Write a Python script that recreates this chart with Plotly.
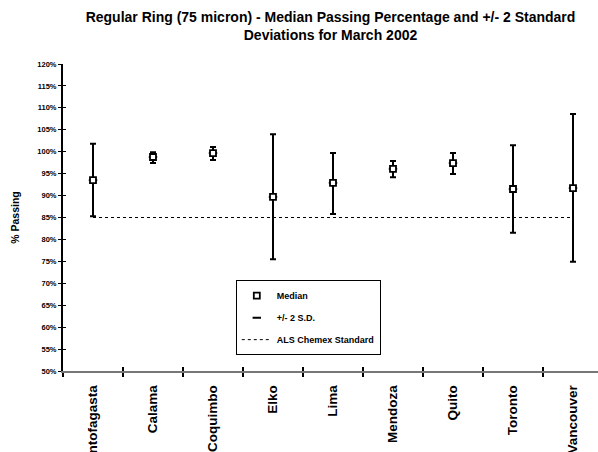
import plotly.graph_objects as go

# March 2002 regular ring (75 micron) results per laboratory
cities = ["Antofagasta", "Calama", "Coquimbo", "Elko", "Lima",
          "Mendoza", "Quito", "Toronto", "Vancouver"]
median = [0.935, 0.988, 0.997, 0.897, 0.929, 0.961, 0.974, 0.915, 0.917]
upper_2sd = [1.018, 0.999, 1.011, 1.040, 0.997, 0.979, 0.997, 1.015, 1.086]
lower_2sd = [0.853, 0.974, 0.981, 0.755, 0.858, 0.942, 0.949, 0.815, 0.749]
standard = [0.85] * len(cities)

err_plus = [u - m for u, m in zip(upper_2sd, median)]
err_minus = [m - l for m, l in zip(median, lower_2sd)]

FONT = "Liberation Sans, Arial, sans-serif"
X_RANGE = [-0.5, 8.4167]
Y_RANGE = [0.5, 1.2]

fig = go.Figure()

# +/- 2 S.D. bars (short dash marker sits hidden under the median square)
fig.add_trace(go.Scatter(
    x=cities, y=median, mode="markers", name="+/- 2 S.D.",
    legendgroup="sd", legendrank=2,
    marker=dict(symbol="line-ew", size=6, color="black",
                line=dict(color="black", width=2)),
    error_y=dict(type="data", symmetric=False, array=err_plus,
                 arrayminus=err_minus, color="black", thickness=2, width=3),
))

# ALS Chemex standard line
fig.add_trace(go.Scatter(
    x=cities, y=standard, mode="lines", name="ALS Chemex Standard",
    legendgroup="std", legendrank=3, xaxis="x2", yaxis="y2",
    line=dict(color="black", width=1, dash="dot"),
))

# Medians as open squares
fig.add_trace(go.Scatter(
    x=cities, y=median, mode="markers", name="Median",
    legendgroup="med", legendrank=1,
    marker=dict(symbol="square", size=6, color="white",
                line=dict(color="black", width=1.8)),
))

fig.update_layout(
    width=598, height=452,
    margin=dict(l=63, r=0, t=64, b=81),
    paper_bgcolor="white", plot_bgcolor="white",
    font=dict(family=FONT, color="black"),
    title=dict(
        text="Regular Ring (75 micron) - Median Passing Percentage and +/- 2 Standard"
             "<br>Deviations for March 2002",
        x=0.5, xref="paper", xanchor="center",
        y=1 - 22 / 452, yref="container", yanchor="top",
        font=dict(size=14, weight="bold", family=FONT),
    ),
    showlegend=True,
    legend=dict(
        x=0.323, y=0.296, xanchor="left", yanchor="top",
        xref="paper", yref="paper",
        bgcolor="white", bordercolor="black", borderwidth=1,
        font=dict(size=9, weight="bold", family=FONT),
        traceorder="grouped", tracegroupgap=3,
        itemwidth=30,
    ),
    xaxis=dict(
        type="category", categoryorder="array", categoryarray=cities,
        range=X_RANGE, tickson="boundaries", automargin=False,
        showline=True, linecolor="#777777", linewidth=1.5,
        ticks="outside", ticklen=4, tickwidth=1.5, tickcolor="black",
        tickangle=-90, ticklabelstandoff=7,
        tickfont=dict(size=13.5, weight="bold", family=FONT),
        showgrid=False, zeroline=False, fixedrange=True,
    ),
    xaxis2=dict(
        type="category", categoryorder="array", categoryarray=cities,
        range=X_RANGE, tickson="boundaries", overlaying="x",
        side="bottom", showline=False, automargin=False,
        ticks="inside", ticklen=4, tickwidth=1.5, tickcolor="black",
        showticklabels=False, showgrid=False, zeroline=False,
    ),
    yaxis=dict(
        range=Y_RANGE, dtick=0.05, tickformat=".0%", automargin=False,
        showline=True, linecolor="black", linewidth=2,
        ticks="outside", ticklen=3, tickwidth=1, tickcolor="black",
        tickfont=dict(size=7.5, weight="bold", family=FONT),
        title=dict(text="% Passing", standoff=16,
                   font=dict(size=10.5, weight="bold", family=FONT)),
        showgrid=False, zeroline=False, fixedrange=True,
    ),
    yaxis2=dict(
        range=Y_RANGE, dtick=0.05, overlaying="y", side="left",
        showline=False, ticks="inside", ticklen=3, tickwidth=1,
        tickcolor="black", showticklabels=False, automargin=False,
        showgrid=False, zeroline=False,
    ),
)

fig.write_html("out.html")
